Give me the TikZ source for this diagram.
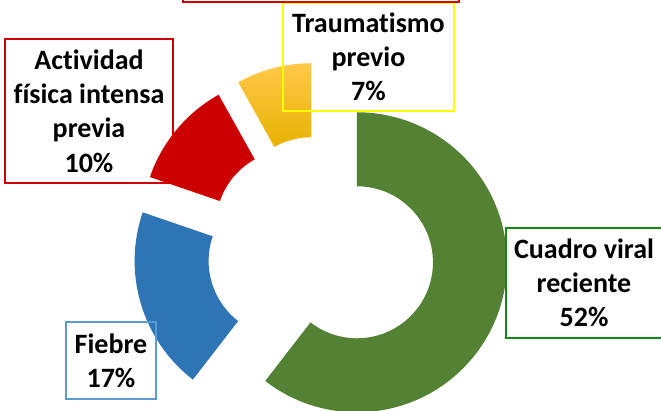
\documentclass[tikz,border=0pt]{standalone}
\usepackage{fontspec}
\setmainfont{Carlito}[Ligatures=NoCommon]
\definecolor{gfill}{HTML}{548235}
\definecolor{bfill}{HTML}{2E75B6}
\definecolor{rfill}{HTML}{CC0000}
\definecolor{ytop}{HTML}{FFC84A}
\definecolor{ymid}{HTML}{FFC400}
\definecolor{ybot}{HTML}{E8B200}
\definecolor{bordR}{HTML}{D00000}
\definecolor{bordY}{HTML}{FFFF00}
\definecolor{bordG}{HTML}{108A10}
\definecolor{bordB}{HTML}{5B9BD5}
\begin{document}
\begin{tikzpicture}[x=1pt,y=1pt,
  lbl/.style={font=\bfseries\fontsize{28}{34.2}\selectfont, align=center, inner sep=0pt, line width=1.5pt, text=black}]
\useasboundingbox (0,0) rectangle (661,-410);
\begin{scope}[shift={(321,-250)}]
  % Cuadro viral reciente 52%
  \fill[gfill, shift={(-18.85:38)}] (-127.7:150) arc[start angle=-127.7,end angle=90,radius=150]
     -- (90:76) arc[start angle=90,end angle=-127.7,radius=76] -- cycle;
  % Fiebre 17%
  \fill[bfill, shift={(196.7:38)}] (161.1:150) arc[start angle=161.1,end angle=232.3,radius=150]
     -- (232.3:76) arc[start angle=232.3,end angle=161.1,radius=76] -- cycle;
  % Actividad 10%
  \fill[rfill, shift={(140.15:38)}] (119.2:150) arc[start angle=119.2,end angle=161.1,radius=150]
     -- (161.1:76) arc[start angle=161.1,end angle=119.2,radius=76] -- cycle;
  % Traumatismo 7%
  \shade[top color=ytop, middle color=ymid, bottom color=ybot, shift={(104.6:38)}] (90:150) arc[start angle=90,end angle=119.2,radius=150]
     -- (119.2:76) arc[start angle=119.2,end angle=90,radius=76] -- cycle;
\end{scope}
\node[lbl, draw=bordY, minimum width=171pt, minimum height=108pt] (trauma) at (368.5,-57) {Traumatismo\\previo\\7\%};
\node[lbl, draw=bordR, minimum width=276pt, minimum height=60pt] (topbox) at (321,28) {};
\node[lbl, draw=bordR, minimum width=168pt, minimum height=144pt] (activ) at (89,-111) {Actividad\\física intensa\\previa\\10\%};
\node[lbl, draw=bordB, minimum width=90pt, minimum height=77pt] (fiebre) at (111,-360.5) {Fiebre\\17\%};
\node[lbl, draw=bordG, minimum width=156pt, minimum height=110pt] (cuadro) at (584,-283) {Cuadro viral\\reciente\\52\%};
\end{tikzpicture}
\end{document}
